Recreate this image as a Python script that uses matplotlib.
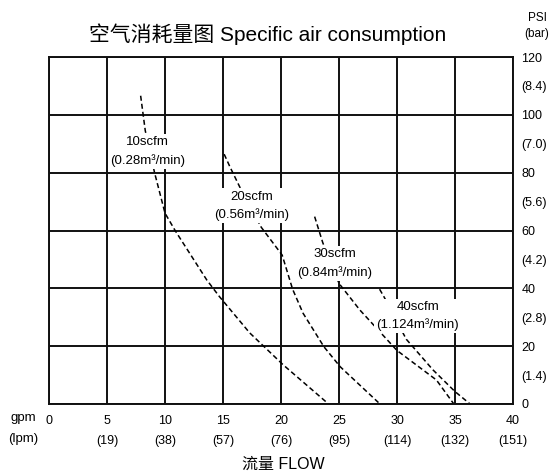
import matplotlib.pyplot as plt

plt.rcParams['font.family'] = ['Liberation Sans', 'Noto Sans CJK SC', 'DejaVu Sans']

# axis ticks
gpm_ticks = [0, 5, 10, 15, 20, 25, 30, 35, 40]
lpm_labels = ['', '(19)', '(38)', '(57)', '(76)', '(95)', '(114)', '(132)', '(151)']
psi_ticks = [0, 20, 40, 60, 80, 100, 120]
bar_pos = [10, 30, 50, 70, 90, 110]
bar_labels = ['(1.4)', '(2.8)', '(4.2)', '(5.6)', '(7.0)', '(8.4)']

# curves (gpm, psi)
flow_10 = [7.9, 8.3, 9.1, 10.0, 10.9, 13.6, 14.7, 17.3, 20.2, 24.1]
psi_10 = [106.6, 94.5, 80.0, 66.0, 59.8, 42.9, 37.1, 24.6, 13.5, 0.0]

flow_20 = [15.1, 15.6, 16.45, 18.3, 20.1, 21.0, 21.9, 23.7, 25.1, 28.4]
psi_20 = [86.4, 82.0, 75.0, 61.1, 51.5, 39.7, 31.4, 19.8, 12.9, 0.5]

flow_30 = [22.9, 23.6, 25.0, 26.8, 30.0, 33.4, 34.9]
psi_30 = [64.8, 55.8, 41.7, 32.5, 18.5, 8.3, 0.0]

flow_40 = [28.5, 28.9, 30.8, 33.1, 35.0, 36.3]
psi_40 = [39.7, 36.9, 22.4, 11.8, 4.3, 0.0]

curves = [(flow_10, psi_10), (flow_20, psi_20), (flow_30, psi_30), (flow_40, psi_40)]

# curve labels
lab_text = ['10scfm\n(0.28m³/min)', '20scfm\n(0.56m³/min)',
            '30scfm\n(0.84m³/min)', '40scfm\n(1.124m³/min)']
lab_x = [8.5, 17.5, 24.65, 31.8]
lab_y = [87.3, 68.6, 48.6, 30.4]

fig = plt.figure(figsize=(5.52, 4.72), dpi=100)
ax = fig.add_axes([49 / 552, 68 / 472, 464 / 552, 347 / 472])

for fx, fy in curves:
    ax.plot(fx, fy, color='black', lw=1.1, ls='--', dashes=(3.3, 2.0), zorder=2)

for i in range(len(lab_text)):
    ax.text(lab_x[i], lab_y[i], lab_text[i], ha='center', va='center', fontsize=9.5,
            linespacing=1.55, zorder=10, bbox=dict(fc='white', ec='none', pad=1.5))

ax.set_xlim(0, 40)
ax.set_ylim(0, 120)

xlabels = [str(g) if l == '' else str(g) + '\n' + l for g, l in zip(gpm_ticks, lpm_labels)]
ax.set_xticks(gpm_ticks, xlabels)
for t in ax.get_xticklabels():
    t.set_linespacing(1.85)
    t.set_verticalalignment('top')

ax.yaxis.tick_right()
ax.set_yticks(psi_ticks, [str(p) for p in psi_ticks])
ax.set_yticks(bar_pos, bar_labels, minor=True)
ax.tick_params(which='both', length=0, labelsize=9, labelright=True, labelleft=False)
ax.tick_params(axis='x', pad=8)
ax.tick_params(axis='y', which='both', pad=6)

ax.grid(True, which='major', color='#111111', lw=1.4, zorder=1)
ax.set_axisbelow(True)
for s in ax.spines.values():
    s.set_linewidth(1.4)
    s.set_color('#111111')

fig.text(268 / 552, 1 - 34 / 472, '空气消耗量图 Specific air consumption', ha='center', va='center', fontsize=15)
fig.text(537 / 552, 1 - 18 / 472, 'PSI', ha='center', va='center', fontsize=8.5)
fig.text(537 / 552, 1 - 34 / 472, '(bar)', ha='center', va='center', fontsize=8.5)
fig.text(23 / 552, 1 - 418 / 472, 'gpm', ha='center', va='center', fontsize=9.5)
fig.text(23 / 552, 1 - 439 / 472, '(lpm)', ha='center', va='center', fontsize=9.5)
fig.text(283 / 552, 1 - 464 / 472, '流量 FLOW', ha='center', va='center', fontsize=11.5)

fig.savefig('out.png', dpi=100, facecolor='white')
